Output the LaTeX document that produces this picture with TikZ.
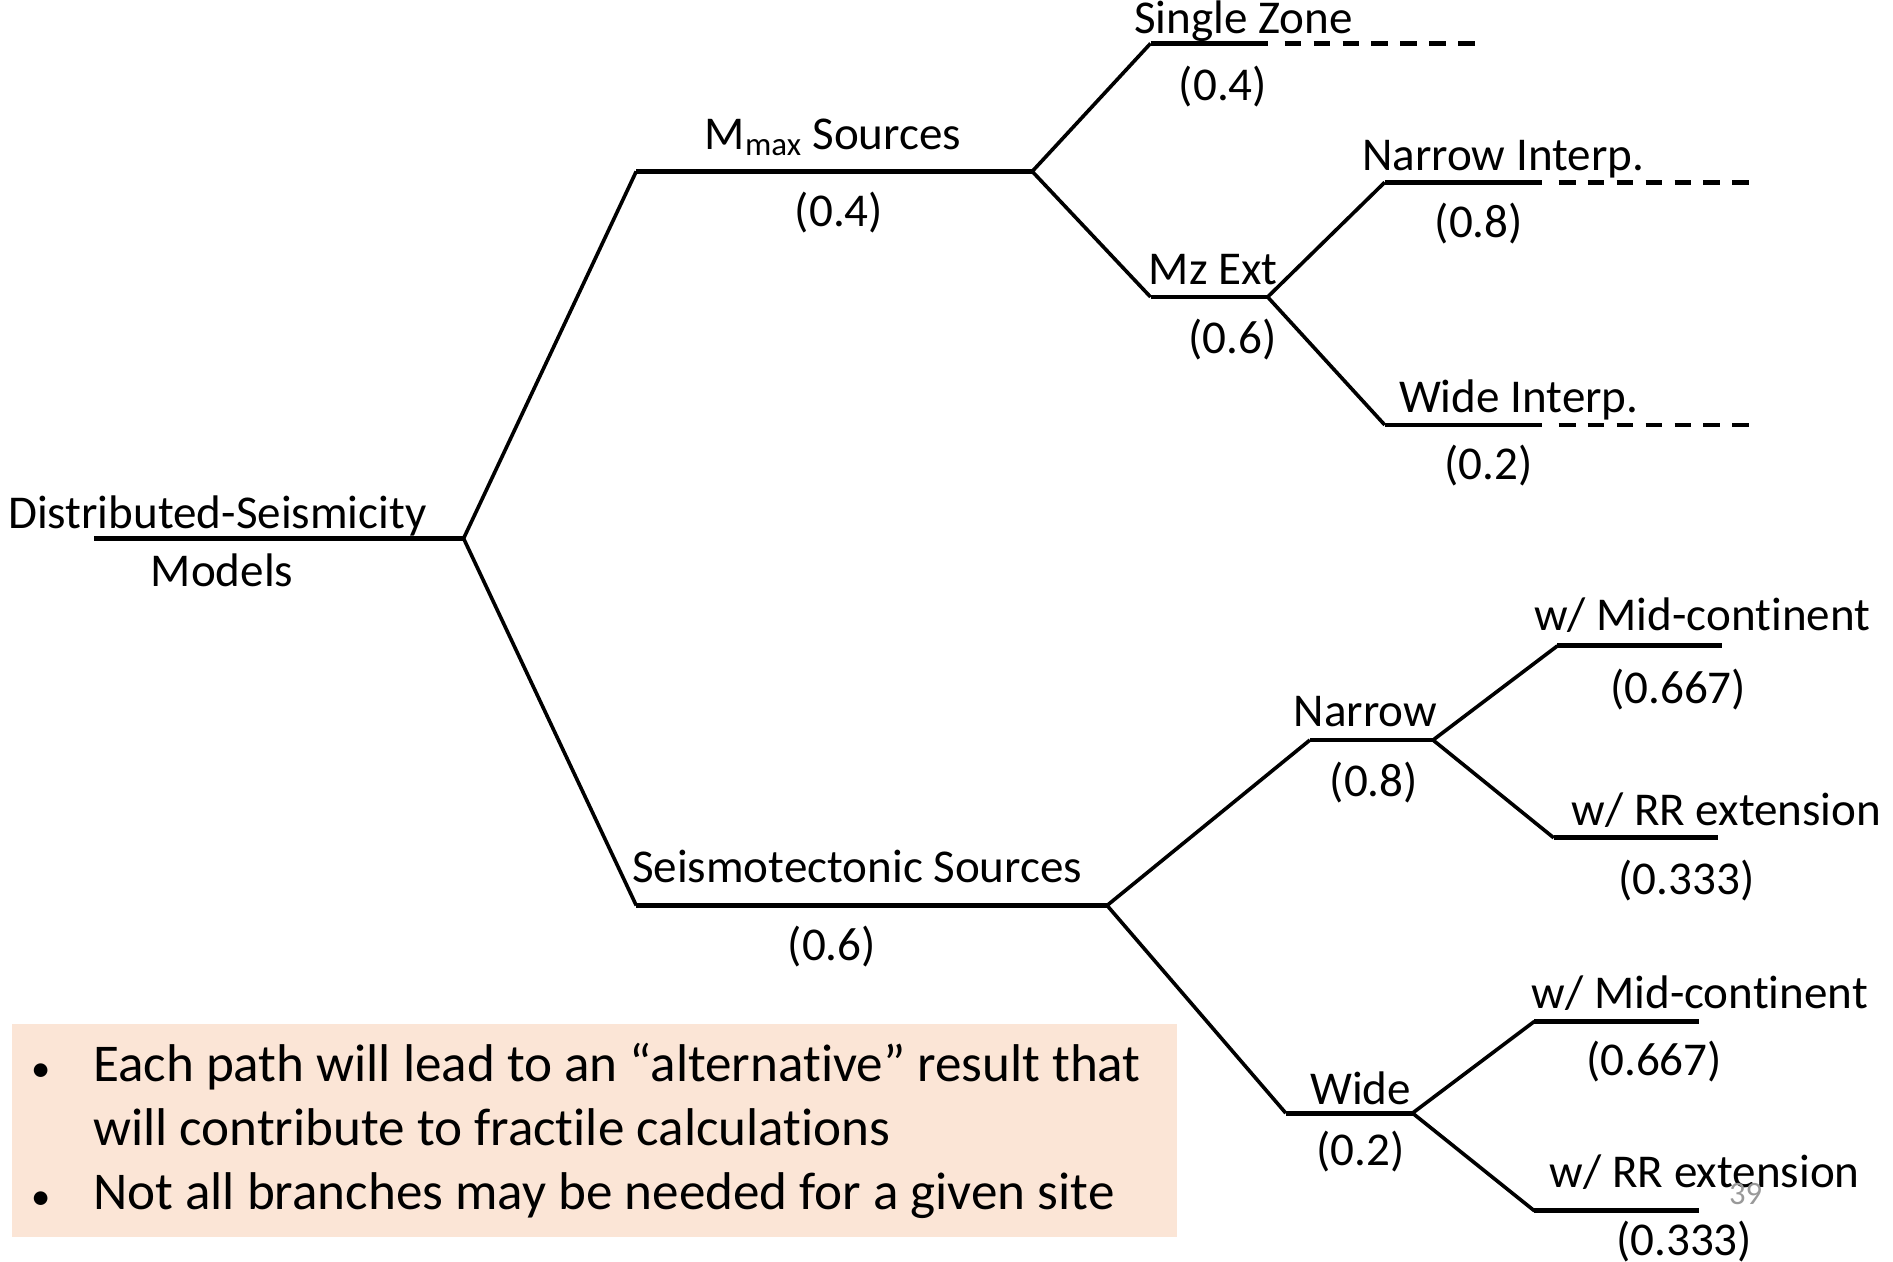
\documentclass[tikz,border=0pt]{standalone}
\usepackage{fontspec}
\setmainfont{Carlito}[Ligatures=NoCommon]
\usepackage{xcolor}
\definecolor{boxpeach}{RGB}{251,229,214}
\tikzset{
  hbar/.style={line width=4pt},
  diag/.style={line width=3pt},
  dashbar/.style={line width=4pt, dash pattern=on 14pt off 10pt},
  lbl/.style={anchor=base, inner sep=0pt, font=\fontsize{39}{47}\selectfont},
  btxt/.style={anchor=base west, inner sep=0pt, font=\fontsize{44}{52}\selectfont},
  bdot/.style={anchor=base, inner sep=0pt, font=\fontsize{32}{38}\selectfont},
}
\begin{document}
\begin{tikzpicture}[x=1pt,y=1pt]
    \useasboundingbox (0,0) rectangle (1568,1045);
    % fond
    \fill[boxpeach] (10,20) rectangle (975,197);
    % branch points
    \coordinate (rootL) at (78,599);   \coordinate (root) at (384,599);
    \coordinate (mmaxL) at (527,903);  \coordinate (mmaxR) at (855,903);
    \coordinate (seisL) at (527,295);  \coordinate (seisR) at (917,295);
    \coordinate (szL) at (953,1009);   \coordinate (szR) at (1050,1009);  \coordinate (szE) at (1222,1009);
    \coordinate (mzL) at (953,799);    \coordinate (mzR) at (1050,799);
    \coordinate (niL) at (1147,894);   \coordinate (niR) at (1277,894);   \coordinate (niE) at (1450,894);
    \coordinate (wiL) at (1147,693);   \coordinate (wiR) at (1277,693);   \coordinate (wiE) at (1450,693);
    \coordinate (narL) at (1085,432);  \coordinate (narR) at (1187,432);
    \coordinate (widL) at (1065,123);  \coordinate (widR) at (1170,123);
    \coordinate (mcaL) at (1290,510);  \coordinate (mcaR) at (1426,510);
    \coordinate (rraL) at (1287,351);  \coordinate (rraR) at (1423,351);
    \coordinate (mcbL) at (1271,199);  \coordinate (mcbR) at (1407,199);
    \coordinate (rrbL) at (1271,42);   \coordinate (rrbR) at (1407,42);
    % horizontals
    \foreach \a/\b in {rootL/root, mmaxL/mmaxR, seisL/seisR, szL/szR, mzL/mzR, niL/niR, wiL/wiR,
                       narL/narR, widL/widR, mcaL/mcaR, rraL/rraR, mcbL/mcbR, rrbL/rrbR}
        \draw[hbar] (\a) -- (\b);
    % diagonals
    \foreach \a/\b in {root/mmaxL, root/seisL, mmaxR/szL, mmaxR/mzL, mzR/niL, mzR/wiL,
                       seisR/narL, seisR/widL, narR/mcaL, narR/rraL, widR/mcbL, widR/rrbL}
        \draw[diag] (\a) -- (\b);
    % dashed ends
    \foreach \a/\b in {szR/szE, niR/niE, wiR/wiE}
        \draw[dashbar] ([xshift=14pt]\a) -- (\b);
    % labels
    \node[lbl] (dsm) at (180,607) {Distributed-Seismicity};
    \node[lbl] (dsmb) at (184,559) {Models};
    \node[lbl] (mmax) at (690,921) {M\textsubscript{max} Sources};
    \node[lbl] (mmaxp) at (695,857) {(0.4)};
    \node[lbl] (sz) at (1030,1017) {Single Zone};
    \node[lbl] (szp) at (1013,962) {(0.4)};
    \node[lbl] (mz) at (1005,809) {Mz Ext};
    \node[lbl] (mzp) at (1021,752) {(0.6)};
    \node[lbl] (ni) at (1245,904) {Narrow Interp.};
    \node[lbl] (nip) at (1225,848) {(0.8)};
    \node[lbl] (wi) at (1258,703) {Wide Interp.};
    \node[lbl] (wip) at (1233,648) {(0.2)};
    \node[lbl] (seis) at (710,314) {Seismotectonic Sources};
    \node[lbl] (seisp) at (689,249) {(0.6)};
    \node[lbl] (nar) at (1131,443) {Narrow};
    \node[lbl] (narp) at (1138,385) {(0.8)};
    \node[lbl] (wid) at (1127,130) {Wide};
    \node[lbl] (widp) at (1127,80) {(0.2)};
    \node[lbl] (mca) at (1410,523) {w/ Mid-continent};
    \node[lbl] (mcap) at (1390,462) {(0.667)};
    \node[lbl] (rra) at (1430,361) {w/ RR extension};
    \node[lbl] (rrap) at (1397,304) {(0.333)};
    \node[lbl] (mcb) at (1408,210) {w/ Mid-continent};
    \node[lbl] (mcbp) at (1370,154) {(0.667)};
    \node[lbl] (rrb) at (1412,61) {w/ RR extension};
    \node[lbl] (rrbp) at (1395,5) {(0.333)};
    % bullets
    \node[bdot] (bua) at (34,149) {•};
    \node[btxt] (txa) at (77,149) {Each path will lead to an “alternative” result that};
    \node[btxt] (txb) at (77,96) {will contribute to fractile calculations};
    \node[bdot] (bub) at (34,43) {•};
    \node[btxt] (txc) at (77,43) {Not all branches may be needed for a given site};
    \node[anchor=base, inner sep=0pt, gray!80, font=\fontsize{27}{32}\selectfont] (pg) at (1446,47) {39};
\end{tikzpicture}
\end{document}
